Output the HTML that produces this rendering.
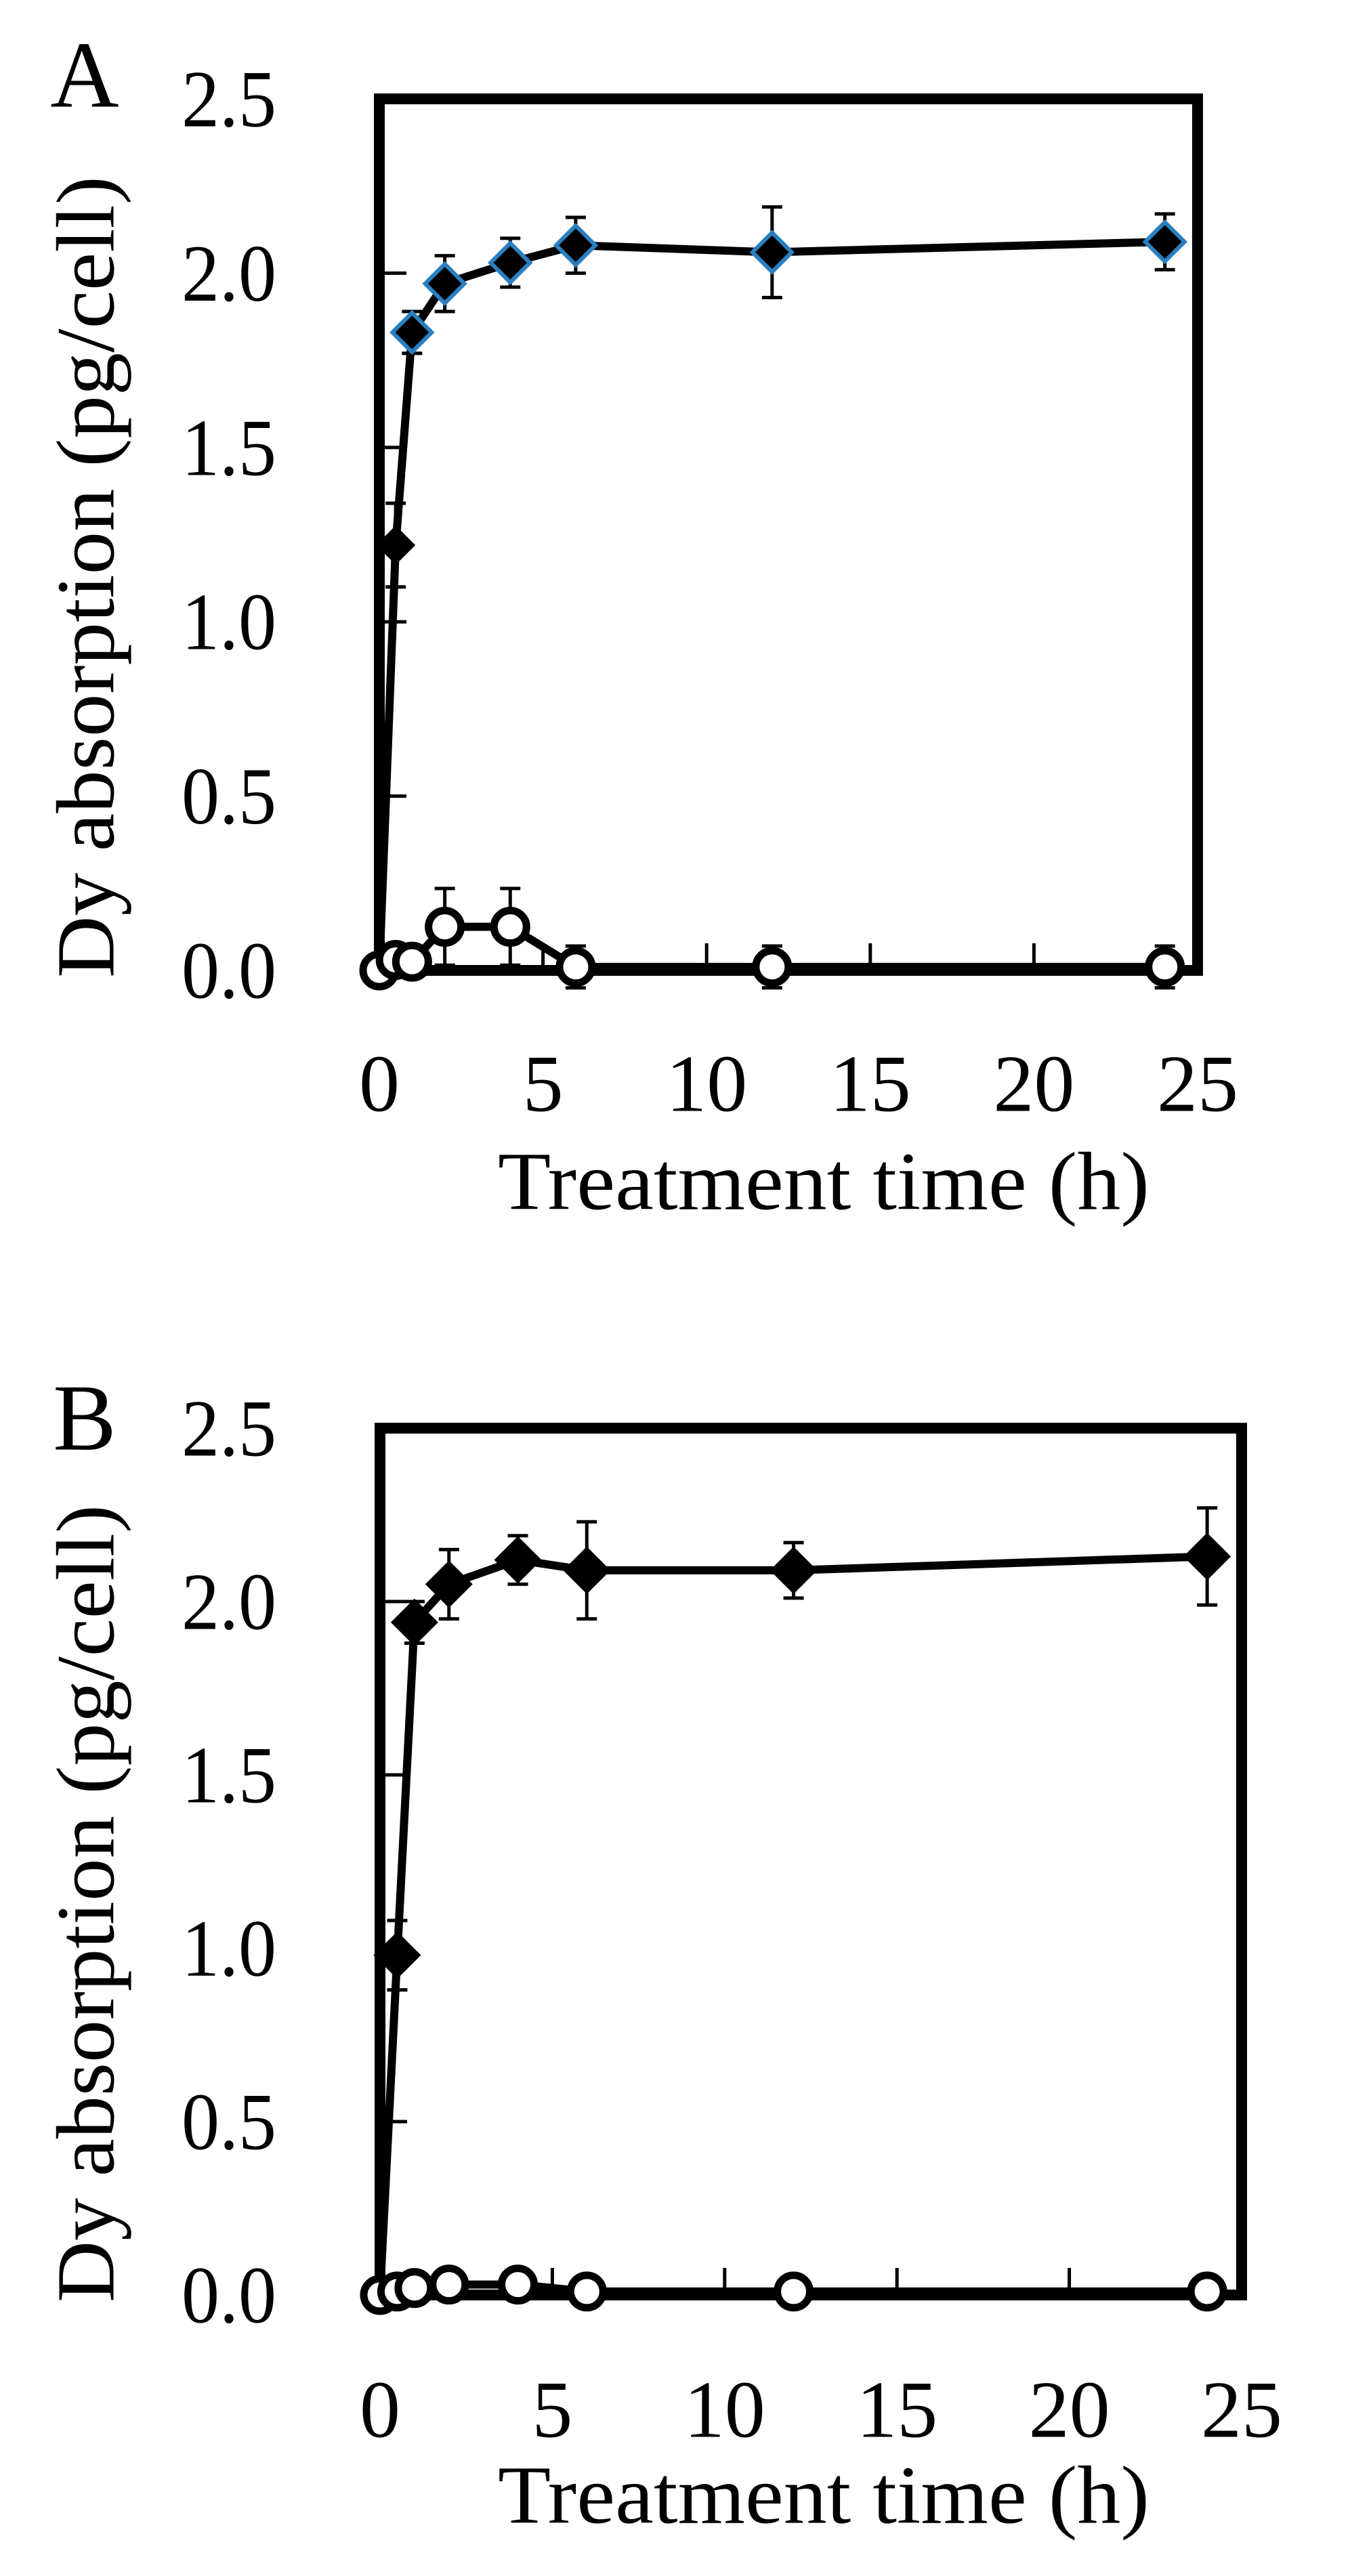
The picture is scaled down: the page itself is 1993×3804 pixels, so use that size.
<!DOCTYPE html>
<html><head><meta charset="utf-8"><style>
html,body{margin:0;padding:0;background:#fff;}
svg{display:block;}
text{font-family:"Liberation Serif",serif;fill:#000;}
</style></head><body>
<svg id="fig" width="1993" height="3804" viewBox="0 0 1993 3804" xmlns="http://www.w3.org/2000/svg"></svg>
<script>
const timesA = [0, 0.5, 1, 2, 4, 6, 12, 24];
const dyA = [0, 1.22, 1.83, 1.97, 2.03, 2.08, 2.06, 2.09];
const dyErrA = [0, 0.12, 0.06, 0.08, 0.07, 0.08, 0.13, 0.08];
const ctrlA = [0, 0.03, 0.025, 0.125, 0.125, 0.01, 0.01, 0.01];
const ctrlErrA = [0, 0.04, 0.04, 0.11, 0.11, 0.06, 0.06, 0.06];
const timesB = [0, 0.5, 1, 2, 4, 6, 12, 24];
const dyB = [0, 0.98, 1.94, 2.05, 2.12, 2.09, 2.09, 2.13];
const dyErrB = [0, 0.10, 0.06, 0.10, 0.07, 0.14, 0.08, 0.14];
const ctrlB = [0, 0.01, 0.02, 0.03, 0.03, 0.01, 0.01, 0.01];
const ctrlErrB = [0, 0.02, 0.02, 0.03, 0.04, 0.02, 0.02, 0.02];
const xTicks = [0, 5, 10, 15, 20, 25];
const yTicks = [0, 0.5, 1.0, 1.5, 2.0, 2.5];
const yTickLabels = ["0.0", "0.5", "1.0", "1.5", "2.0", "2.5"];

const NS = "http://www.w3.org/2000/svg";
const svg = document.getElementById('fig');
function mk(tag, attrs, parent){
  const e = document.createElementNS(NS, tag);
  for (const k in attrs) e.setAttribute(k, attrs[k]);
  (parent || svg).appendChild(e);
  return e;
}

function panel(cfg){
  const g = mk('g', {});
  
  
  const X = v => cfg.x0 + (v / 25) * (cfg.x1 - cfg.x0);
  const Y = v => cfg.y0 - (v / 2.5) * (cfg.y0 - cfg.y1);

  const lt = mk('text', {x: 125, y: cfg.letterY, 'font-size': 140, 'text-anchor': 'middle', 'dominant-baseline': 'central'}, g);
  lt.textContent = cfg.id;
  
  

  yTicks.forEach((v, i) => {
    const t = mk('text', {x: 408, y: Y(v), 'font-size': 120, 'text-anchor': 'end', 'dominant-baseline': 'central', textLength: 140, lengthAdjust: 'spacingAndGlyphs'}, g);
    t.textContent = yTickLabels[i];
    
    
  });
  xTicks.forEach(v => {
    const t = mk('text', {x: X(v), y: cfg.xLabelY, 'font-size': 120, 'text-anchor': 'middle', 'dominant-baseline': 'central'}, g);
    t.textContent = String(v);
    
    
  });
  const xt = mk('text', {x: 1216, y: cfg.xTitleY, 'font-size': 122, 'text-anchor': 'middle', 'dominant-baseline': 'central', textLength: 962, lengthAdjust: 'spacingAndGlyphs'}, g);
  xt.textContent = 'Treatment time (h)';
  
  
  const ytY = cfg.yTitleY;
  const yt = mk('text', {x: 127, y: ytY, 'font-size': 122, 'text-anchor': 'middle', 'dominant-baseline': 'central', transform: 'rotate(-90 127 ' + ytY + ')', textLength: cfg.yTitleLen, lengthAdjust: 'spacingAndGlyphs'}, g);
  yt.textContent = 'Dy absorption (pg/cell)';
  
  

  yTicks.forEach(v => {
    const l = mk('line', {x1: cfg.x0, x2: cfg.x0 + 40, y1: Y(v), y2: Y(v), stroke: '#000', 'stroke-width': 5}, g);
    
    
  });
  xTicks.forEach(v => {
    const l = mk('line', {x1: X(v), x2: X(v), y1: cfg.y0, y2: cfg.y0 - 40, stroke: '#000', 'stroke-width': 5}, g);
    
    
  });
  const fr = mk('rect', {x: cfg.x0, y: cfg.y1, width: cfg.x1 - cfg.x0, height: cfg.y0 - cfg.y1, fill: 'none', stroke: '#000', 'stroke-width': 16}, g);
  
  

  function series(times, vals, errs, kind, name){
    const sg = mk('g', {}, g);
    
    
    const pts = times.map((t, i) => X(t) + ',' + Y(vals[i])).join(' ');
    const pl = mk('polyline', {points: pts, fill: 'none', stroke: '#000', 'stroke-width': 12, 'stroke-linejoin': 'round'}, sg);
    
    
    times.forEach((t, i) => {
      if (errs[i] > 0) {
        const cx = X(t), top = Y(vals[i] + errs[i]), bot = Y(vals[i] - errs[i]);
        const eb = mk('path', {d: `M${cx},${top}V${bot}M${cx-15},${top}H${cx+15}M${cx-15},${bot}H${cx+15}`, stroke: '#000', 'stroke-width': 5, fill: 'none'}, sg);
        
        
      }
    });
    times.forEach((t, i) => {
      const cx = X(t), cy = Y(vals[i]);
      if (kind === 'circle') {
        const c = mk('circle', {cx: cx, cy: cy, r: 24, fill: '#fff', stroke: '#000', 'stroke-width': 11}, sg);
        
        
      } else if (t > 0) {
        const h = cfg.dia;
        const st = (cfg.diaStroke !== 'none' && i > 1) ? cfg.diaStroke : 'none';
        const d = mk('polygon', {points: `${cx},${cy-h} ${cx+h},${cy} ${cx},${cy+h} ${cx-h},${cy}`, fill: '#000', stroke: st, 'stroke-width': st === 'none' ? 0 : 6}, sg);
        
        
      }
    });
  }
  series(cfg.times, cfg.dy, cfg.dyErr, 'diamond', 'dy-series');
  series(cfg.times, cfg.ctrl, cfg.ctrlErr, 'circle', 'control-series');
}

panel({id: 'A', x0: 560, x1: 1768, y0: 1433, y1: 146, letterY: 111, xLabelY: 1600, xTitleY: 1745, yTitleY: 852, yTitleLen: 1184,
  times: timesA, dy: dyA, dyErr: dyErrA, ctrl: ctrlA, ctrlErr: ctrlErrA, dia: 29, diaStroke: '#2a7fc0'});
panel({id: 'B', x0: 561, x1: 1833, y0: 3389, y1: 2109, letterY: 2094, xLabelY: 3558, xTitleY: 3685, yTitleY: 2811, yTitleLen: 1178,
  times: timesB, dy: dyB, dyErr: dyErrB, ctrl: ctrlB, ctrlErr: ctrlErrB, dia: 35, diaStroke: 'none'});
</script>
</body></html>
